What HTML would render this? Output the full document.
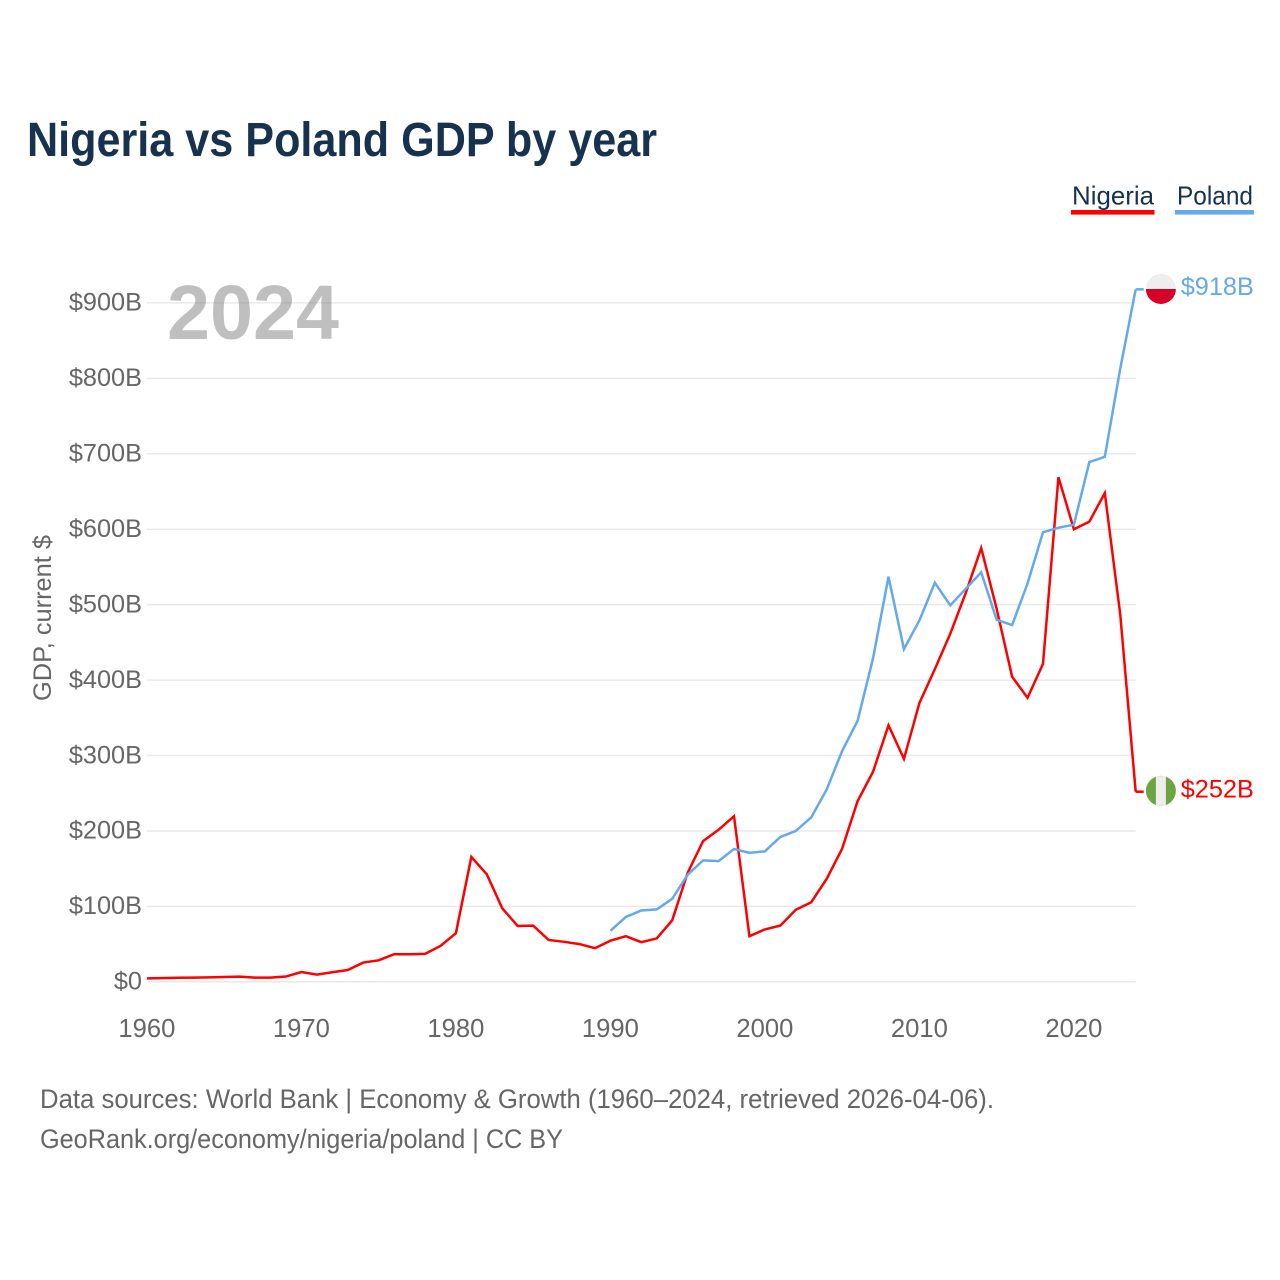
<!DOCTYPE html>
<html lang="en">
<head>
<meta charset="utf-8">
<title>Nigeria vs Poland GDP by year</title>
<style>
  html, body { margin: 0; padding: 0; background: #ffffff; }
  svg { display: block; font-family: "Liberation Sans", sans-serif; }
</style>
</head>
<body>
<svg id="chart" width="1280" height="1280" viewBox="0 0 1280 1280" xmlns="http://www.w3.org/2000/svg">
  <rect x="0" y="0" width="1280" height="1280" fill="#ffffff"/>
  <text x="27" y="156" font-size="48" font-weight="700" fill="#17324f" textLength="630" lengthAdjust="spacingAndGlyphs">Nigeria vs Poland GDP by year</text>

  <g>
    <g>
      <text x="1072" y="204.5" font-size="26" fill="#17324f" textLength="82" lengthAdjust="spacingAndGlyphs">Nigeria</text>
      <rect x="1071" y="210" width="83.5" height="4.6" fill="#ff0000"/>
    </g>
    <g>
      <text x="1177" y="204.5" font-size="26" fill="#17324f" textLength="76" lengthAdjust="spacingAndGlyphs">Poland</text>
      <rect x="1175" y="210" width="79" height="4.6" fill="#63a9ec"/>
    </g>
  </g>

  <g id="grid"></g>
  <g id="y-axis"></g>
  <g id="x-axis"></g>
  <text id="year-label" x="167" y="339" font-size="77" font-weight="700" fill="#808080" fill-opacity="0.5" textLength="172" lengthAdjust="spacingAndGlyphs"></text>
  <text transform="translate(51 618) rotate(-90)" text-anchor="middle" font-size="25" fill="#666666" textLength="166" lengthAdjust="spacingAndGlyphs">GDP, current $</text>
  <g id="series"></g>

  <text x="40" y="1108" font-size="27" fill="#666666" textLength="954" lengthAdjust="spacingAndGlyphs">Data sources: World Bank | Economy &amp; Growth (1960–2024, retrieved 2026-04-06).</text>
  <text x="40" y="1148" font-size="27" fill="#666666" textLength="523" lengthAdjust="spacingAndGlyphs">GeoRank.org/economy/nigeria/poland | CC BY</text>
</svg>

<script>
const years = [1960,1961,1962,1963,1964,1965,1966,1967,1968,1969,1970,1971,1972,1973,1974,1975,1976,1977,1978,1979,1980,1981,1982,1983,1984,1985,1986,1987,1988,1989,1990,1991,1992,1993,1994,1995,1996,1997,1998,1999,2000,2001,2002,2003,2004,2005,2006,2007,2008,2009,2010,2011,2012,2013,2014,2015,2016,2017,2018,2019,2020,2021,2022,2023,2024];
const nigeriaGdp = [4.6,4.9,5.3,5.6,5.9,6.3,6.8,5.6,5.6,7,13,9.6,12.7,15.6,25.5,28.5,36.5,36.5,37,47.5,64.5,165.5,142.5,97.5,74,74.5,55.5,53,50,44.5,54.5,60.5,52.5,57.5,81.5,144.5,186.5,201.5,219.5,60.5,69.5,74.5,95.5,105.5,136.5,176.5,239.5,278.5,340,295.5,369.5,414.5,461.5,515.5,575,494.5,404.5,376.5,421.5,669,600,610,648,487,252];
const polandGdp = [null,null,null,null,null,null,null,null,null,null,null,null,null,null,null,null,null,null,null,null,null,null,null,null,null,null,null,null,null,null,67.6,86,94.5,96,110,142,161,160,176,171,173,192,200,218,255,306,346,429,537,441,479,529,499,521,543,480,473,528,596,602,606,689,696,813,918];
const yTicks = [0,100,200,300,400,500,600,700,800,900];
const yTickLabels = ['$0','$100B','$200B','$300B','$400B','$500B','$600B','$700B','$800B','$900B'];
const xTicks = [1960,1970,1980,1990,2000,2010,2020];

const SVG_NS = 'http://www.w3.org/2000/svg';
const xScale = year => 146.9 + (year - 1960) * 15.45;
const yScale = value => 981.8 - value * 0.7543;

function make(tag, parent, attrs, text) {
  const el = document.createElementNS(SVG_NS, tag);
  for (const key in attrs) el.setAttribute(key, attrs[key]);
  if (text !== undefined) el.textContent = text;
  parent.appendChild(el);
  return el;
}

const gridLayer = document.getElementById('grid');
const yLayer = document.getElementById('y-axis');
const xLayer = document.getElementById('x-axis');
const seriesLayer = document.getElementById('series');
const plotLeft = xScale(years[0]);
const plotRight = xScale(years[years.length - 1]);

yTicks.forEach((tick, i) => {
  const line = make('line', gridLayer, { x1: plotLeft, x2: plotRight, y1: yScale(tick), y2: yScale(tick), stroke: '#e9e9e9', 'stroke-width': 1.5 });
  
  
  const label = make('text', yLayer, { x: 142, y: yScale(tick) + 7.8, 'text-anchor': 'end', 'font-size': 25.3, fill: '#666666' }, yTickLabels[i]);
  
  
});

xTicks.forEach(tick => {
  const label = make('text', xLayer, { x: xScale(tick), y: 1037, 'text-anchor': 'middle', 'font-size': 25.6, fill: '#666666' }, String(tick));
  
  
});

document.getElementById('year-label').textContent = String(years[years.length - 1]);

function formatValue(value) {
  return '$' + Math.round(value) + 'B';
}

function drawSeries(values, color, seriesKey) {
  const points = [];
  values.forEach((value, i) => {
    if (value !== null) points.push(xScale(years[i]).toFixed(2) + ',' + yScale(value).toFixed(2));
  });
  const lastValue = values[values.length - 1];
  const lastX = xScale(years[years.length - 1]);
  const lastY = yScale(lastValue);
  const group = make('g', seriesLayer, {});
  
  

  const line = make('polyline', group, { points: points.join(' '), fill: 'none', stroke: color, 'stroke-width': 2.5, 'stroke-linejoin': 'miter' });
  
  

  const connector = make('line', group, { x1: lastX, x2: lastX + 8, y1: lastY, y2: lastY, stroke: color, 'stroke-width': 2.5 });
  
  

  const label = make('text', group, { x: lastX + 45, y: lastY + 5.6, 'font-size': 25.3, fill: color }, formatValue(lastValue));
  
  
  return { x: lastX + 25.2, y: lastY, group: group };
}

const nigeriaEnd = drawSeries(nigeriaGdp, '#ff0000', 'nigeria');
const polandEnd = drawSeries(polandGdp, '#63a9ec', 'poland');

const nigeriaFlag = make('g', nigeriaEnd.group, { transform: 'translate(' + nigeriaEnd.x + ' ' + (nigeriaEnd.y - 0.8) + ')' });


make('circle', nigeriaFlag, { r: 15, fill: '#6da544' });
make('rect', nigeriaFlag, { x: -5, y: -14.8, width: 10, height: 29.6, fill: '#eeeeee' });

const polandFlag = make('g', polandEnd.group, { transform: 'translate(' + polandEnd.x + ' ' + (polandEnd.y - 0.4) + ')' });


make('circle', polandFlag, { r: 15, fill: '#eeeeee' });
make('path', polandFlag, { d: 'M-15 0A15 15 0 0 0 15 0Z', fill: '#d80027' });
</script>
</body>
</html>
